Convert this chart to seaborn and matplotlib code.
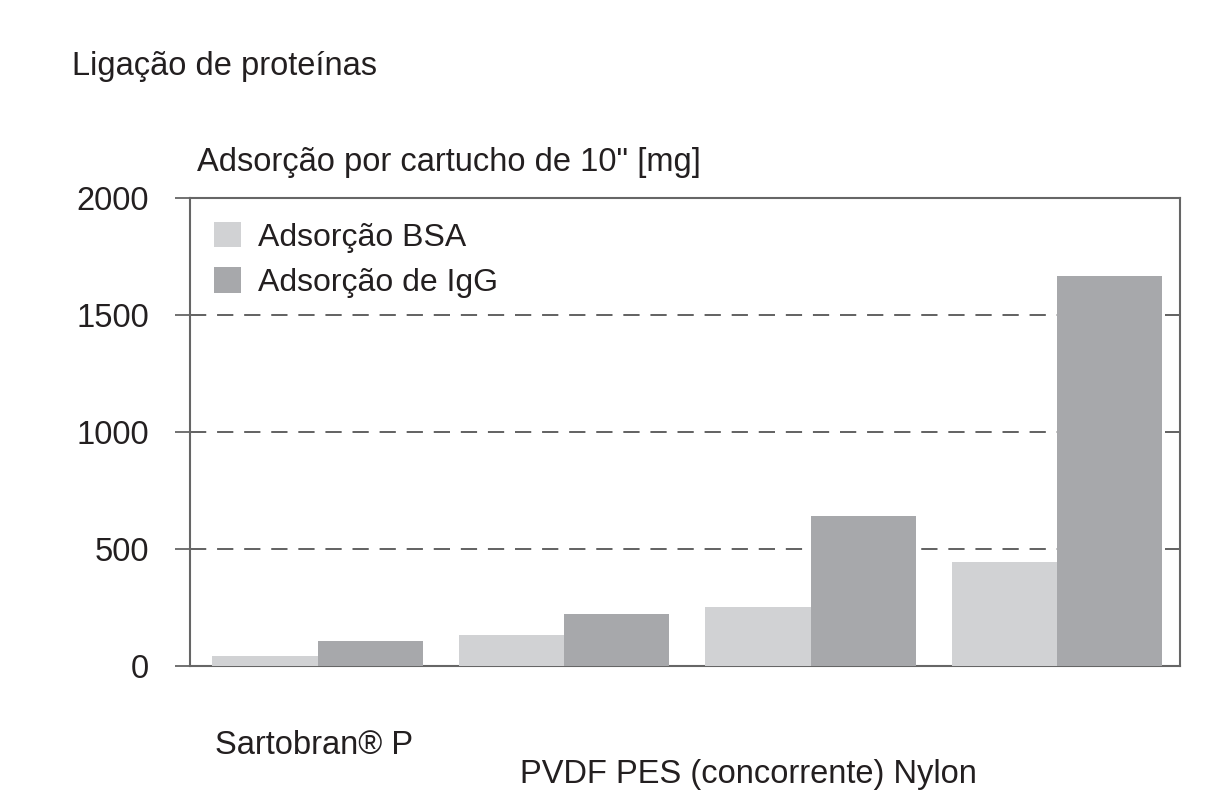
import matplotlib
matplotlib.use("Agg")
import matplotlib.pyplot as plt
import seaborn as sns
import pandas as pd

categories = ["Sartobran® P", "PVDF", "PES (concorrente)", "Nylon"]
series = ["Adsorção BSA", "Adsorção de IgG"]
bsa_values = [45, 135, 255, 447]
igg_values = [110, 222, 640, 1668]
yticks = [0, 500, 1000, 1500, 2000]
colors = ["#d1d2d4", "#a7a8ab"]

df = pd.DataFrame({
    "cat": categories * 2,
    "serie": [series[0]] * 4 + [series[1]] * 4,
    "val": bsa_values + igg_values,
})

sns.set_style("white")
plt.rcParams["font.family"] = ["Liberation Sans", "DejaVu Sans"]
FS = 23.5

fig = plt.figure(figsize=(12.23, 7.98), dpi=100)
ax = fig.add_axes([0.155, 0.165, 0.810, 0.587])

sns.barplot(data=df, x="cat", y="val", hue="serie", order=categories,
            hue_order=series, palette=colors, width=0.855, saturation=1,
            linewidth=0, ax=ax, zorder=3)

ax.set_ylim(0, 2000)
ax.set_xlim(-0.52, 3.5)
ax.set_yticks(yticks)
ax.set_yticklabels([str(v) for v in yticks], fontsize=FS, color="#231f20")
ax.set_xticks([])
ax.set_xlabel("")
ax.set_ylabel("")
for v in yticks[1:-1]:
    ax.axhline(v, color="#555555", lw=1.3, ls=(0, (9, 6)), zorder=1)
ax.tick_params(axis="y", direction="out", length=11, width=1.3,
               color="#666666", pad=18, left=True)
for s in ax.spines.values():
    s.set_color("#666666")
    s.set_linewidth(1.5)

leg = ax.legend(loc="upper left", frameon=False, fontsize=FS - 0.5,
                handlelength=0.85, handleheight=0.85, handletextpad=0.55,
                borderaxespad=0.35, labelspacing=0.45,
                bbox_to_anchor=(0.0, 1.0))
for t in leg.get_texts():
    t.set_color("#231f20")

fig.text(72 / 1223, 1 - 66 / 798, "Ligação de proteínas", fontsize=FS,
         color="#231f20", va="center", ha="left")
fig.text(197 / 1223, 1 - 163 / 798, "Adsorção por cartucho de 10\" [mg]",
         fontsize=FS, color="#231f20", va="center", ha="left")
fig.text(215 / 1223, 1 - 745 / 798, categories[0], fontsize=FS,
         color="#231f20", va="center", ha="left")
fig.text(520 / 1223, 1 - 775 / 798, " ".join(categories[1:]), fontsize=FS,
         color="#231f20", va="center", ha="left")

fig.savefig("out.png", dpi=100)
